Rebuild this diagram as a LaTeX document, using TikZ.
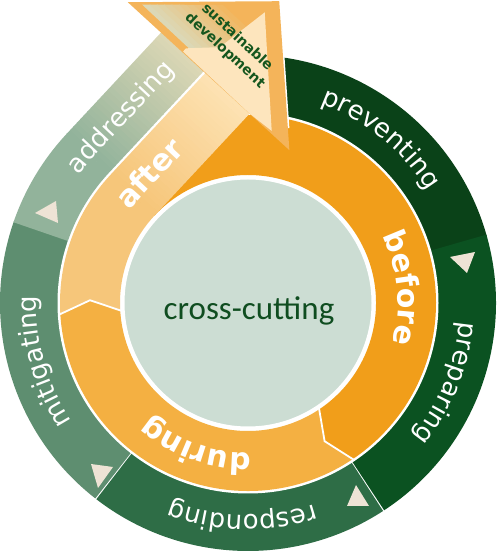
\documentclass[tikz,border=0pt]{standalone}
\usepackage{fontspec}
\usetikzlibrary{decorations.text}
\newfontfamily\labfont{DejaVu Sans}
\newfontfamily\ccfont{Carlito}
\definecolor{cPrev}{HTML}{0A4218}
\definecolor{cPrep}{HTML}{0B5221}
\definecolor{cResp}{HTML}{2E6D46}
\definecolor{cMit}{HTML}{5E8E70}
\definecolor{cAddr}{HTML}{92B39B}
\definecolor{cAddrTop}{HTML}{DCD7B5}
\definecolor{cTri}{HTML}{EEE3D5}
\definecolor{cBefore}{HTML}{F19E1A}
\definecolor{cDuring}{HTML}{F4B042}
\definecolor{cAfter}{HTML}{F6C67A}
\definecolor{cAfterTop}{HTML}{FDE2B3}
\definecolor{cInner}{HTML}{CCDDD3}
\definecolor{cCC}{HTML}{0F4D20}
\definecolor{cHead}{HTML}{F4B45A}
\definecolor{cCream}{HTML}{FDE5BD}
\definecolor{cGB}{HTML}{DCD8B6}
\definecolor{cSD}{HTML}{15561E}
\tikzset{
  ringlabel/.style={decorate, decoration={text along path, text color=white, text align=center,
     text={|\labfont\fontsize{26}{30}\selectfont|#1}}},
  phaselabel/.style={decorate, decoration={text along path, text color=white, text align=center,
     text={|\labfont\bfseries\fontsize{30}{34}\selectfont|#1}}},
  tri/.style={fill=cTri}
}
\begin{document}
\begin{tikzpicture}[x=1pt,y=1pt]
\useasboundingbox (0,0) rectangle (500,557);
\fill[white] (0,0) rectangle (500,557);
\begin{scope}[shift={(248,254)}]
  % green ring
  \fill[cPrev] (95:248) arc[start angle=95,end angle=15.7,radius=248] -- (15.7:190) arc[start angle=15.7,end angle=95,radius=190] -- cycle;
  \fill[cPrep] (16:248) arc[start angle=16,end angle=-56.7,radius=248] -- (-56.7:190) arc[start angle=-56.7,end angle=16,radius=190] -- cycle;
  \fill[cResp] (-57:248) arc[start angle=-57,end angle=-127.7,radius=248] -- (-127.7:190) arc[start angle=-127.7,end angle=-57,radius=190] -- cycle;
  \fill[cMit] (-128:248) arc[start angle=-128,end angle=-199.3,radius=248] -- (-199.3:190) arc[start angle=-199.3,end angle=-128,radius=190] -- cycle;
  \fill[white] (0,0) circle (190.5);
  % orange ring
  \fill[cBefore] (137:188) arc[start angle=137,end angle=-56,radius=188] -- (-61:158) -- (-56:128) arc[start angle=-56,end angle=137,radius=128] -- cycle;
  \fill[cDuring] (-56:188) arc[start angle=-56,end angle=-176.5,radius=188] -- (-181:158) -- (-176.5:128) arc[start angle=-176.5,end angle=-56,radius=128] -- (-61:158) -- cycle;
  \draw[white,line width=1.8] (-56:189) -- (-61:158) -- (-56:127);
  % arrow (rotated frame: x = along arrow, y = distance from centre)
  \begin{scope}[rotate=47]
    \fill[cAddr] (114:248) arc[start angle=114,end angle=90,radius=248] -- (0.5,248) -- (0.5,190.5) -- (90:190.5) arc[start angle=90,end angle=114,radius=190.5] -- cycle;
    \fill[cAfter] (136.5:188) -- (132:158) -- (136.5:128) arc[start angle=136.5,end angle=90,radius=128] -- (0.5,128) -- (0.5,188) -- (90:188) arc[start angle=90,end angle=136.5,radius=188] -- cycle;
    \fill[white] (0,187.5) rectangle (141,191);
    \foreach \i in {0,...,27}{
      \pgfmathtruncatemacro\p{100*\i/27}
      \fill[cAddrTop!\p!cAddr] (5*\i,190.5) rectangle (5*\i+5.6,248);
      \fill[cAfterTop!\p!cAfter] (5*\i,128) rectangle (5*\i+5.6,188);
    }
    \draw[white,line width=3] (155,90) -- (242,183);
    \fill[cHead] (140,74) -- (242,183) -- (138,293) -- cycle;
    \begin{scope}
      \clip (146,196) -- (146,281) -- (232,188) -- (200,188) -- cycle;
      \foreach \i in {0,...,11}{
        \pgfmathtruncatemacro\p{100*\i/11}
        \fill[cHead!\p!cGB] (146+5*\i,190) rectangle (146+5*\i+5.6,290);
      }
    \end{scope}
    \fill[cCream] (139.6,128) -- (142,100) -- (224,186) -- (168,195) -- (144,219) -- (139.6,219) -- cycle;
    \path[ringlabel=addressing] (100:212) arc[start angle=100,end angle=90,radius=212] -- (136,212);
    \path[phaselabel=after] (110:150) arc[start angle=110,end angle=90,radius=150] -- (108,150);
  \end{scope}
  \draw[white,line width=1.8] (-176.5:189) -- (-181:158) -- (-176.5:127);
  % inner circle
  \filldraw[fill=cInner,draw=white,line width=3] (0,0) circle (125);
  \node[font=\ccfont\fontsize{33}{36}\selectfont,text=cCC,anchor=base] (cc) at (1,-17) {cross-cutting};
  % ring labels
  \path[ringlabel=preventing] (80:212) arc[start angle=80,end angle=22,radius=212];
  \path[ringlabel=preparing] (10:212) arc[start angle=10,end angle=-54,radius=212];
  \path[ringlabel=responding] (-50:212) arc[start angle=-50,end angle=-133,radius=212];
  \path[ringlabel=mitigating] (232:212) arc[start angle=232,end angle=160,radius=212];
  \path[phaselabel=before] (40:150) arc[start angle=40,end angle=-29,radius=150];
  \path[phaselabel=during] (-75:150) arc[start angle=-75,end angle=-145,radius=150];
  \node[rotate=-43,align=center,font=\labfont\bfseries\fontsize{14}{18}\selectfont,text=cSD] (sd) at (-17,259) {sustainable\\development};
\end{scope}
% triangles
\fill[tri] (450,300) -- (475,305) -- (467,284) -- cycle;
\fill[tri] (347,51) -- (369,51) -- (356,72) -- cycle;
\fill[tri] (91,93) -- (113,90) -- (98,69) -- cycle;
\fill[tri] (35,344) -- (56,356) -- (58,334) -- cycle;
\end{tikzpicture}
\end{document}
